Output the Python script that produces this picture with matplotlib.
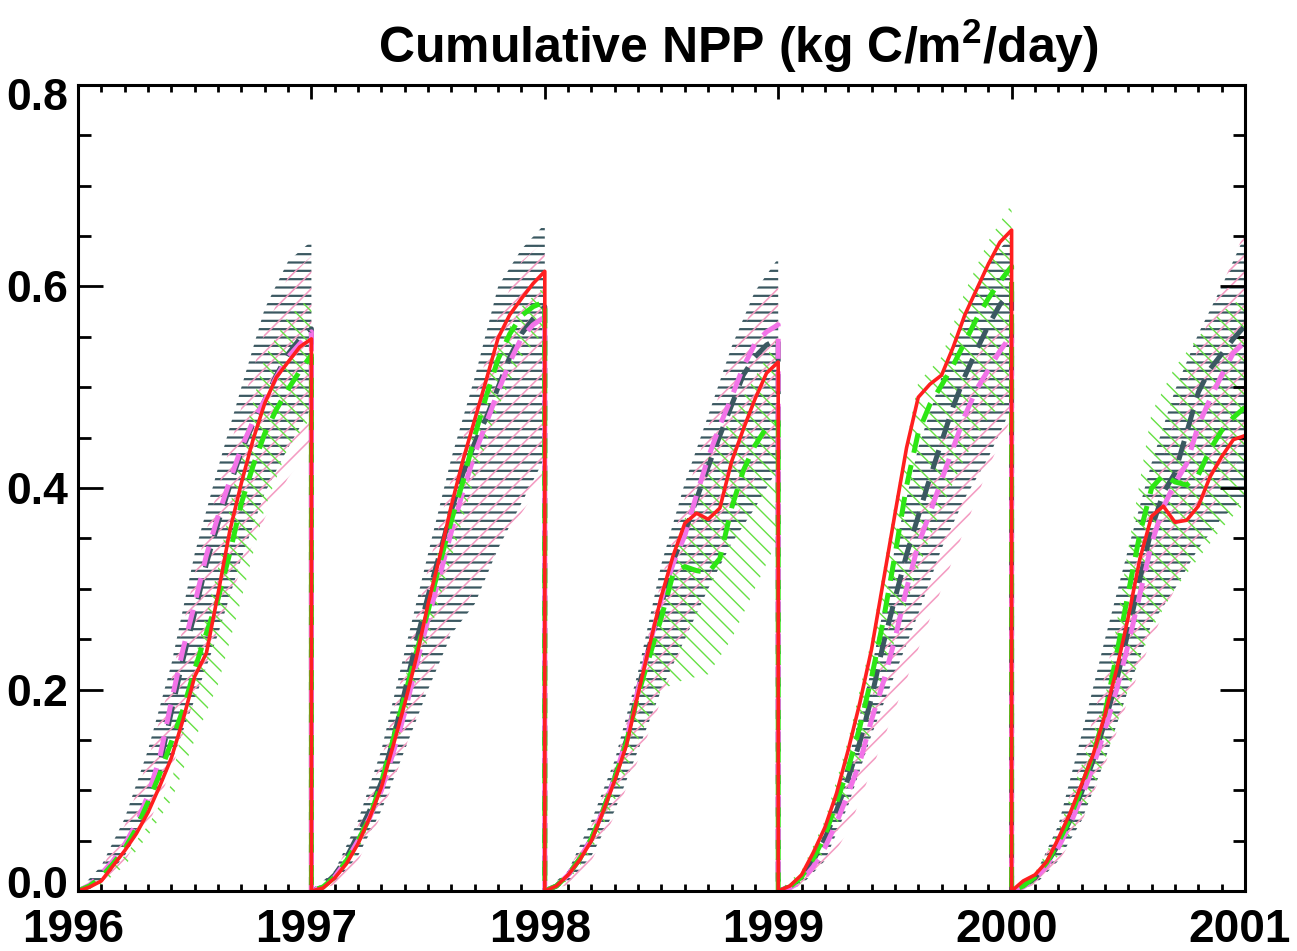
import matplotlib
matplotlib.use("Agg")
import matplotlib.pyplot as plt
import matplotlib.transforms as mtransforms
import numpy as np
from matplotlib.ticker import MultipleLocator, FormatStrFormatter

plt.rcParams['font.family'] = ['Liberation Sans', 'DejaVu Sans']
plt.rcParams['font.weight'] = 'bold'
plt.rcParams['mathtext.fontset'] = 'custom'
plt.rcParams['mathtext.rm'] = 'Liberation Sans:bold'
plt.rcParams['mathtext.it'] = 'Liberation Sans:bold'
plt.rcParams['mathtext.bf'] = 'Liberation Sans:bold'

years = [1996, 1997, 1998, 1999, 2000]
line_frac = np.arange(21) / 20.0   # sample positions within each year
band_frac = np.arange(11) / 10.0

# ---- mean curves (one list per year) ----
red = [
    [0, 0.004, 0.010, 0.025, 0.040, 0.057, 0.078, 0.104, 0.132, 0.170, 0.213, 0.236, 0.295, 0.357, 0.405, 0.448, 0.484, 0.510, 0.525, 0.540, 0.548],
    [0, 0.003, 0.013, 0.027, 0.047, 0.073, 0.103, 0.144, 0.186, 0.232, 0.285, 0.332, 0.383, 0.428, 0.468, 0.508, 0.549, 0.572, 0.588, 0.603, 0.615],
    [0, 0.005, 0.016, 0.031, 0.050, 0.079, 0.110, 0.145, 0.196, 0.245, 0.293, 0.333, 0.365, 0.375, 0.369, 0.380, 0.426, 0.458, 0.488, 0.514, 0.525],
    [0, 0.005, 0.016, 0.038, 0.063, 0.097, 0.140, 0.187, 0.240, 0.307, 0.374, 0.440, 0.490, 0.503, 0.512, 0.540, 0.572, 0.597, 0.622, 0.644, 0.656],
    [0, 0.010, 0.016, 0.029, 0.052, 0.077, 0.106, 0.136, 0.175, 0.220, 0.272, 0.330, 0.372, 0.382, 0.366, 0.368, 0.382, 0.411, 0.431, 0.448, 0.452],
]
green = [
    [0, 0.005, 0.014, 0.027, 0.042, 0.062, 0.088, 0.116, 0.148, 0.180, 0.220, 0.256, 0.290, 0.335, 0.385, 0.422, 0.454, 0.478, 0.498, 0.516, 0.532],
    [0, 0.004, 0.014, 0.030, 0.050, 0.073, 0.108, 0.150, 0.194, 0.237, 0.278, 0.325, 0.368, 0.407, 0.452, 0.492, 0.528, 0.553, 0.571, 0.580, 0.585],
    [0, 0.005, 0.016, 0.032, 0.052, 0.080, 0.112, 0.148, 0.195, 0.234, 0.272, 0.315, 0.322, 0.318, 0.316, 0.330, 0.380, 0.417, 0.442, 0.460, 0.466],
    [0, 0.004, 0.014, 0.032, 0.055, 0.088, 0.122, 0.163, 0.212, 0.268, 0.333, 0.402, 0.455, 0.483, 0.502, 0.522, 0.545, 0.568, 0.588, 0.605, 0.620],
    [0, 0.005, 0.014, 0.028, 0.048, 0.072, 0.103, 0.136, 0.176, 0.235, 0.296, 0.355, 0.400, 0.413, 0.406, 0.403, 0.413, 0.438, 0.457, 0.470, 0.480],
]
gray = [
    [0, 0.005, 0.015, 0.028, 0.043, 0.063, 0.090, 0.125, 0.178, 0.230, 0.276, 0.325, 0.365, 0.402, 0.436, 0.464, 0.487, 0.512, 0.533, 0.548, 0.558],
    [0, 0.005, 0.016, 0.033, 0.056, 0.080, 0.108, 0.150, 0.198, 0.248, 0.293, 0.335, 0.378, 0.415, 0.445, 0.470, 0.500, 0.530, 0.553, 0.568, 0.580],
    [0, 0.005, 0.016, 0.032, 0.052, 0.080, 0.113, 0.150, 0.200, 0.245, 0.285, 0.328, 0.356, 0.389, 0.421, 0.452, 0.482, 0.512, 0.530, 0.542, 0.548],
    [0, 0.004, 0.013, 0.030, 0.052, 0.080, 0.112, 0.148, 0.192, 0.245, 0.290, 0.334, 0.372, 0.410, 0.446, 0.481, 0.511, 0.537, 0.561, 0.582, 0.595],
    [0, 0.004, 0.013, 0.027, 0.046, 0.070, 0.098, 0.130, 0.168, 0.209, 0.258, 0.310, 0.360, 0.395, 0.415, 0.455, 0.495, 0.518, 0.533, 0.548, 0.561],
]
pink = [
    [0, 0.006, 0.017, 0.030, 0.046, 0.067, 0.095, 0.132, 0.188, 0.240, 0.285, 0.333, 0.372, 0.407, 0.440, 0.466, 0.487, 0.510, 0.530, 0.543, 0.555],
    [0, 0.004, 0.014, 0.030, 0.050, 0.073, 0.100, 0.137, 0.177, 0.225, 0.270, 0.313, 0.357, 0.397, 0.434, 0.465, 0.496, 0.525, 0.549, 0.562, 0.570],
    [0, 0.005, 0.016, 0.032, 0.052, 0.080, 0.113, 0.150, 0.200, 0.245, 0.290, 0.325, 0.353, 0.393, 0.430, 0.462, 0.490, 0.520, 0.543, 0.555, 0.562],
    [0, 0.003, 0.010, 0.024, 0.043, 0.068, 0.097, 0.128, 0.170, 0.207, 0.250, 0.300, 0.344, 0.375, 0.408, 0.440, 0.472, 0.498, 0.517, 0.536, 0.552],
    [0, 0.004, 0.012, 0.025, 0.043, 0.066, 0.093, 0.124, 0.160, 0.200, 0.245, 0.295, 0.345, 0.381, 0.405, 0.424, 0.462, 0.488, 0.512, 0.534, 0.545],
]

# ---- spread bands (lower / upper, one list per year) ----
gray_hi = [
    [0, 0.025, 0.072, 0.140, 0.225, 0.335, 0.420, 0.500, 0.578, 0.625, 0.645],
    [0, 0.020, 0.070, 0.140, 0.238, 0.335, 0.430, 0.510, 0.600, 0.637, 0.662],
    [0, 0.020, 0.070, 0.130, 0.218, 0.325, 0.405, 0.472, 0.540, 0.595, 0.628],
    [0, 0.014, 0.058, 0.130, 0.220, 0.340, 0.440, 0.510, 0.575, 0.625, 0.650],
    [0, 0.015, 0.065, 0.155, 0.250, 0.340, 0.425, 0.497, 0.553, 0.600, 0.651],
]
gray_lo = [
    [0, 0.008, 0.035, 0.075, 0.128, 0.190, 0.255, 0.330, 0.395, 0.440, 0.480],
    [0, 0.008, 0.035, 0.080, 0.140, 0.200, 0.255, 0.285, 0.340, 0.385, 0.430],
    [0, 0.008, 0.035, 0.080, 0.140, 0.200, 0.250, 0.300, 0.345, 0.380, 0.420],
    [0, 0.006, 0.030, 0.085, 0.155, 0.215, 0.275, 0.340, 0.390, 0.430, 0.480],
    [0, 0.006, 0.030, 0.070, 0.130, 0.200, 0.265, 0.300, 0.340, 0.370, 0.390],
]
pink_hi = [
    [0, 0.022, 0.065, 0.130, 0.210, 0.315, 0.400, 0.480, 0.555, 0.610, 0.630],
    [0, 0.018, 0.065, 0.130, 0.225, 0.320, 0.410, 0.490, 0.570, 0.625, 0.645],
    [0, 0.020, 0.065, 0.125, 0.210, 0.310, 0.390, 0.460, 0.530, 0.585, 0.612],
    [0, 0.012, 0.050, 0.110, 0.190, 0.290, 0.380, 0.450, 0.510, 0.550, 0.575],
    [0, 0.016, 0.060, 0.130, 0.215, 0.300, 0.390, 0.470, 0.540, 0.600, 0.655],
]
pink_lo = [
    [0, 0.008, 0.030, 0.065, 0.120, 0.190, 0.260, 0.320, 0.370, 0.410, 0.440],
    [0, 0.006, 0.030, 0.075, 0.140, 0.210, 0.260, 0.300, 0.340, 0.375, 0.410],
    [0, 0.006, 0.030, 0.075, 0.130, 0.190, 0.250, 0.310, 0.360, 0.410, 0.450],
    [0, 0.005, 0.022, 0.060, 0.120, 0.180, 0.240, 0.300, 0.360, 0.420, 0.470],
    [0, 0.006, 0.028, 0.068, 0.125, 0.190, 0.250, 0.300, 0.350, 0.400, 0.440],
]
green_hi = [
    [0, 0.012, 0.035, 0.065, 0.106, 0.230, 0.320, 0.440, 0.530, 0.570, 0.590],
    [0, 0.016, 0.055, 0.115, 0.210, 0.300, 0.390, 0.470, 0.540, 0.580, 0.600],
    [0, 0.016, 0.055, 0.115, 0.190, 0.285, 0.370, 0.430, 0.470, 0.510, 0.550],
    [0, 0.020, 0.070, 0.150, 0.250, 0.385, 0.505, 0.530, 0.595, 0.645, 0.682],
    [0, 0.018, 0.060, 0.125, 0.190, 0.340, 0.475, 0.520, 0.550, 0.575, 0.590],
]
green_lo = [
    [0, 0.006, 0.025, 0.055, 0.090, 0.150, 0.205, 0.290, 0.380, 0.440, 0.470],
    [0, 0.010, 0.040, 0.095, 0.170, 0.250, 0.330, 0.410, 0.480, 0.530, 0.555],
    [0, 0.010, 0.040, 0.090, 0.150, 0.200, 0.210, 0.215, 0.250, 0.300, 0.350],
    [0, 0.008, 0.040, 0.090, 0.160, 0.250, 0.320, 0.380, 0.430, 0.470, 0.490],
    [0, 0.008, 0.035, 0.075, 0.130, 0.200, 0.260, 0.300, 0.330, 0.360, 0.385],
]

c_red = '#ff1f1f'
c_green = '#2de614'
c_gray = '#3b5861'
c_pink = '#f273e8'

fig = plt.figure(figsize=(12.97, 9.51), dpi=100)
ax = fig.add_axes([78 / 1297, 1 - 891 / 951, (1245 - 78) / 1297, (891 - 85) / 951])


def hatch_band(lo, hi, color, hatch, hlw):
    with plt.rc_context({'hatch.linewidth': hlw}):
        for i, yr in enumerate(years):
            pc = ax.fill_between(yr + band_frac, lo[i], hi[i], facecolor='none',
                                 edgecolor=color, hatch=hatch, linewidth=0)
            if hasattr(pc, 'set_hatch_linewidth'):
                pc.set_hatch_linewidth(hlw)


hatch_band(gray_lo, gray_hi, c_gray, '--', 1.6)
hatch_band(pink_lo, pink_hi, '#f49cc2', '//', 1.15)
hatch_band(green_lo, green_hi, '#66e044', '\\\\', 1.0)


def joined(series):
    t = np.concatenate([yr + line_frac for yr in years])
    v = np.concatenate([np.asarray(s) for s in series])
    return t, v


t, v = joined(gray)
ax.plot(t, v, color=c_gray, lw=3.6, dashes=(4, 2.5))
t, v = joined(pink)
ax.plot(t, v, color=c_pink, lw=3.6, dashes=(4, 2.5))
t, v = joined(green)
ax.plot(t, v, color=c_green, lw=3.6, dashes=(4, 2.5))
t, v = joined(red)
ax.plot(t, v, color=c_red, lw=2.6)

ax.set_xlim(1996, 2001)
ax.set_ylim(0, 0.8)
ax.xaxis.set_major_locator(MultipleLocator(1))
ax.xaxis.set_minor_locator(MultipleLocator(0.1))
ax.yaxis.set_major_locator(MultipleLocator(0.2))
ax.yaxis.set_minor_locator(MultipleLocator(0.05))
ax.yaxis.set_major_formatter(FormatStrFormatter('%.1f'))

ax.tick_params(which='both', direction='in', top=True, right=True, width=2, color='black')
ax.tick_params(axis='x', which='major', length=10, pad=12, labelsize=33)
ax.tick_params(axis='x', which='minor', length=5)
ax.tick_params(axis='y', which='major', length=18, pad=7, labelsize=32)
ax.tick_params(axis='y', which='minor', length=9)
for sp in ax.spines.values():
    sp.set_linewidth(2.2)

fig.canvas.draw()
# nudge the end labels inside the axis range, like the original plot
for tk in ax.yaxis.get_major_ticks():
    loc = tk.get_loc()
    dy = 0
    if abs(loc) < 1e-6:
        dy = 9
    elif abs(loc - 0.8) < 1e-6:
        dy = -9
    if dy:
        tk.label1.set_transform(tk.label1.get_transform() +
                                mtransforms.ScaledTranslation(0, dy / 100, fig.dpi_scale_trans))
for tk in ax.xaxis.get_major_ticks():
    tk.label1.set_transform(tk.label1.get_transform() +
                            mtransforms.ScaledTranslation(-5 / 100, 0, fig.dpi_scale_trans))

fig.text(738 / 1297, 1 - 46 / 951, 'Cumulative NPP (kg C/m$^2$/day)',
         ha='center', va='center', fontsize=36, fontweight='bold')

fig.savefig('out.png', dpi=100)
